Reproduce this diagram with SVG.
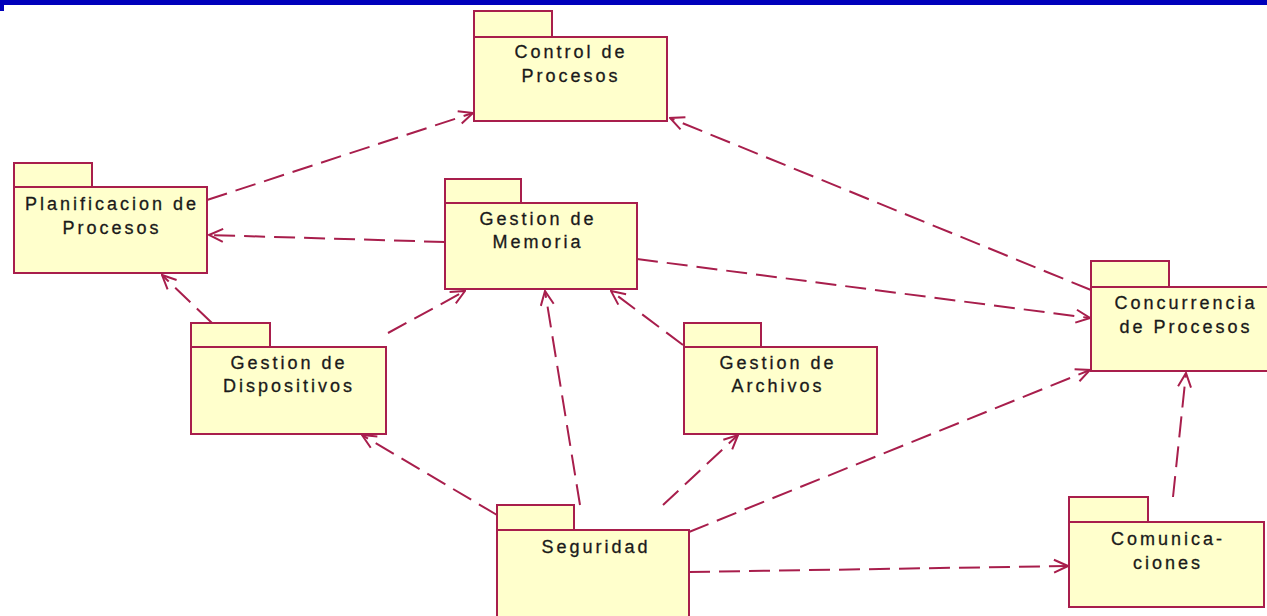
<svg xmlns="http://www.w3.org/2000/svg" width="1267" height="616" viewBox="0 0 1267 616">
<defs>
<marker id="arr" viewBox="0 0 16 16" refX="15" refY="8" markerWidth="16" markerHeight="16" markerUnits="userSpaceOnUse" orient="auto">
<path d="M1,1.5 L15,8 L1,14.5" fill="none" stroke="#a81e4c" stroke-width="2"/>
</marker>
<style>
.pk rect{fill:#ffffcc;stroke:#a81e4c;stroke-width:2}
.pk text{font-family:"Liberation Sans",Arial,sans-serif;font-size:18px;fill:#1a1a1a;stroke:#1a1a1a;stroke-width:0.3;text-anchor:middle;letter-spacing:3px}
.c line{stroke:#a81e4c;stroke-width:2;stroke-dasharray:21 9;fill:none;marker-end:url(#arr)}
</style>
</defs>
<rect x="0" y="0" width="1267" height="616" fill="#ffffff"/>
<rect x="0" y="0" width="1267" height="5" fill="#0000bb"/>
<rect x="0" y="0" width="4" height="11" fill="#0000bb"/>

<g id="connectors" class="c">
<line x1="207" y1="200" x2="473" y2="113"/>
<line x1="1091" y1="290" x2="670" y2="118"/>
<line x1="445" y1="242" x2="209" y2="235"/>
<line x1="212" y1="323" x2="162" y2="275"/>
<line x1="388" y1="333" x2="465" y2="291"/>
<line x1="637" y1="259" x2="1090" y2="318"/>
<line x1="683" y1="345" x2="611" y2="291"/>
<line x1="497" y1="515" x2="362" y2="435"/>
<line x1="580" y1="505" x2="545" y2="291"/>
<line x1="663" y1="505" x2="738" y2="435"/>
<line x1="689" y1="532" x2="1090" y2="370"/>
<line x1="689" y1="572" x2="1068" y2="566"/>
<line x1="1173" y1="497" x2="1186" y2="373"/>
</g>

<g id="control" class="pk">
<rect x="474" y="11" width="78" height="26"/>
<rect x="474" y="37" width="193" height="84"/>
<text x="571" y="58">Control de</text>
<text x="571" y="82">Procesos</text>
</g>
<g id="planificacion" class="pk">
<rect x="14" y="163" width="78" height="24"/>
<rect x="14" y="187" width="193" height="86"/>
<text x="112" y="210">Planificacion de</text>
<text x="112" y="234">Procesos</text>
</g>
<g id="memoria" class="pk">
<rect x="445" y="179" width="76" height="24"/>
<rect x="445" y="203" width="192" height="86"/>
<text x="538" y="225">Gestion de</text>
<text x="538" y="248">Memoria</text>
</g>
<g id="dispositivos" class="pk">
<rect x="191" y="323" width="79" height="24"/>
<rect x="191" y="347" width="195" height="87"/>
<text x="289" y="369">Gestion de</text>
<text x="289" y="392">Dispositivos</text>
</g>
<g id="archivos" class="pk">
<rect x="684" y="323" width="77" height="24"/>
<rect x="684" y="347" width="193" height="87"/>
<text x="778" y="369">Gestion de</text>
<text x="778" y="392">Archivos</text>
</g>
<g id="concurrencia" class="pk">
<rect x="1091" y="261" width="78" height="26"/>
<rect x="1091" y="287" width="180" height="84"/>
<text x="1186" y="309">Concurrencia</text>
<text x="1186" y="333">de Procesos</text>
</g>
<g id="comunicaciones" class="pk">
<rect x="1069" y="497" width="79" height="25"/>
<rect x="1069" y="522" width="195" height="85"/>
<text x="1168" y="545">Comunica-</text>
<text x="1168" y="569">ciones</text>
</g>
<g id="seguridad" class="pk">
<rect x="497" y="505" width="77" height="25"/>
<rect x="497" y="530" width="192" height="90"/>
<text x="596" y="553">Seguridad</text>
</g>
</svg>
